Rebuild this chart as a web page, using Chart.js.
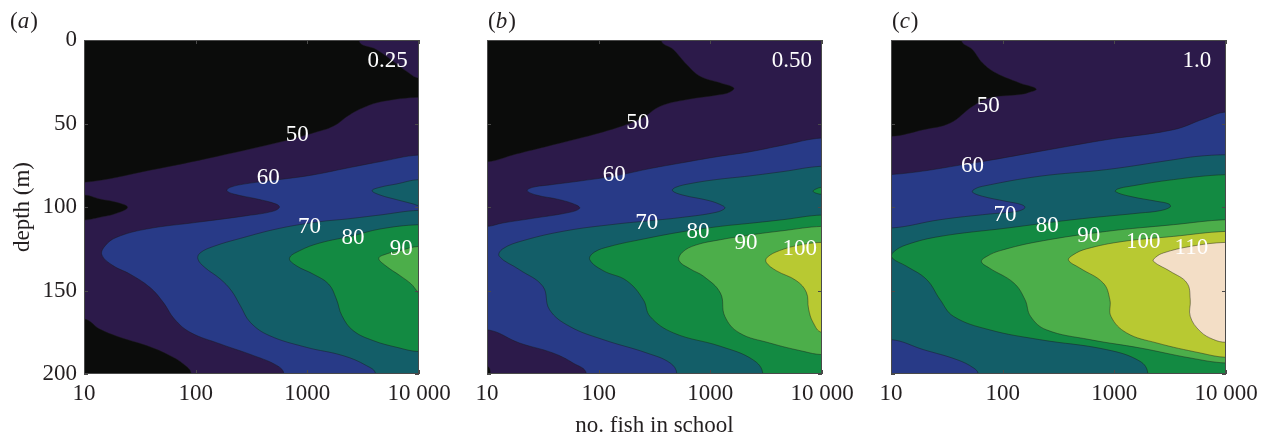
<!DOCTYPE html>
<html>
<head>
<meta charset="utf-8">
<script src="https://cdn.jsdelivr.net/npm/chart.js@4/dist/chart.umd.min.js"></script>
<style>
  body { margin: 0; background: #fff; }
  #wrap { position: relative; width: 1268px; height: 441px; overflow: hidden; }
  canvas { position: absolute; top: 0; }
</style>
</head>
<body>
<div id="wrap">
  <canvas id="pa" width="470" height="441" style="left:0px"></canvas>
  <canvas id="pb" width="430" height="441" style="left:440px"></canvas>
  <canvas id="pc" width="424" height="441" style="left:844px"></canvas>
</div>
<script>
// axes
const xTicks = [10, 100, 1000, 10000];
const xTickText = ['10', '100', '1000', '10 000'];
const yTicks = [0, 50, 100, 150, 200];

// contour lines, [log10(no. fish), depth m]
// panel (a) 0.25
const a50Top = [[3.46,0],[3.62,5.8],[3.77,12.8],[3.89,18.8],[4.0,22.8]];
const a50 = [[1.0,85.2],[1.59,78.0],[2.19,69.7],[2.78,60.7],[3.08,55.1],[3.23,51.7],[3.38,44.7],[3.53,39.7],[3.68,36.7],[4.0,34.3]];
const a50Tongue = [[1.0,92.8],[1.14,95.2],[1.29,97.2],[1.39,100.2],[1.29,103.8],[1.14,106.2],[1.0,107.8]];
const a50Corner = [[1.0,167.1],[1.14,173.1],[1.32,178.0],[1.56,183.0],[1.77,189.0],[1.89,194.0],[1.96,200]];
const a60 = [[4.0,68.9],[3.65,72.9],[3.35,76.8],[3.05,80.8],[2.75,83.6],[2.46,86.0],[2.31,88.2],[2.28,90.2],[2.34,92.2],[2.55,95.2],[2.72,98.2],[2.75,100.2],[2.69,102.6],[2.46,105.2],[2.01,109.2],[1.56,113.2],[1.29,118.2],[1.19,123.2],[1.16,128.7],[1.26,135.1],[1.41,140.1],[1.59,148.1],[1.71,157.1],[1.81,167.1],[1.95,175.0],[2.22,182.0],[2.52,189.0],[2.73,195.0],[2.79,200]];
const a70Lobe = [[4.0,83.6],[3.80,86.2],[3.65,88.2],[3.58,90.2],[3.65,92.8],[3.80,95.6],[3.95,98.2],[4.0,99.2]];
const a70 = [[4.0,102.0],[3.65,104.8],[3.35,107.2],[3.11,108.8],[2.75,112.8],[2.40,118.8],[2.16,123.6],[2.04,127.5],[2.02,131.1],[2.08,136.1],[2.22,143.1],[2.32,150.1],[2.40,159.1],[2.49,169.1],[2.66,177.0],[2.99,184.0],[3.32,189.0],[3.53,195.0],[3.61,200]];
const a80 = [[4.0,110.6],[3.65,113.2],[3.41,117.2],[3.11,121.6],[2.93,126.2],[2.84,130.7],[2.90,135.1],[3.05,140.1],[3.19,146.1],[3.26,155.1],[3.31,165.1],[3.41,174.0],[3.59,180.0],[3.80,184.0],[4.0,186.6]];
const a90 = [[4.0,123.6],[3.83,126.1],[3.71,128.1],[3.64,130.7],[3.70,135.1],[3.83,141.1],[3.93,146.1],[3.98,150.1],[4.0,151.5]];
const aLabels = [['0.25',3.72,12.4],['50',2.91,56.8],['60',2.65,82.4],['70',3.02,111.8],['80',3.41,118.4],['90',3.84,125.0]];

// panel (b) 0.50
const b50 = [[2.56,0],[2.67,5.8],[2.79,14.8],[2.91,21.8],[3.09,25.7],[3.21,28.7],[3.17,31.3],[3.09,32.7],[2.79,35.7],[2.55,39.7],[2.40,46.3],[2.22,51.3],[1.86,58.3],[1.56,63.3],[1.26,68.3],[1.0,72.9]];
const b50Corner = [[1.0,195.5],[1.03,200]];
const b60 = [[4.0,58.7],[3.65,63.0],[3.35,67.0],[3.05,70.0],[2.75,73.5],[2.46,77.0],[2.16,81.2],[1.86,84.2],[1.56,86.8],[1.41,88.2],[1.36,90.2],[1.44,92.8],[1.65,95.6],[1.80,98.8],[1.83,100.8],[1.74,103.2],[1.41,106.8],[1.14,109.6],[1.0,111.6]];
const b60Corner = [[1.0,173.5],[1.29,181.4],[1.59,187.4],[1.77,193.4],[1.89,200]];
const b70 = [[4.0,75.6],[3.65,78.8],[3.35,81.4],[3.05,83.6],[2.82,86.0],[2.69,88.2],[2.66,90.2],[2.75,92.8],[2.99,96.2],[3.11,99.2],[3.13,100.8],[3.05,103.2],[2.75,106.2],[2.46,108.2],[2.16,110.2],[1.71,114.2],[1.32,120.2],[1.14,125.1],[1.11,129.5],[1.29,137.5],[1.50,147.5],[1.56,161.5],[1.74,171.5],[2.04,179.4],[2.43,187.4],[2.64,193.4],[2.70,200]];
const b80Lobe = [[4.0,88.2],[3.94,89.4],[3.92,90.6],[3.95,91.8],[4.0,92.4]];
const b80 = [[4.0,104.8],[3.65,107.6],[3.35,109.8],[3.09,111.6],[2.75,114.8],[2.40,119.2],[2.10,123.6],[1.96,127.1],[1.92,131.5],[2.04,138.1],[2.25,144.1],[2.40,155.5],[2.46,165.5],[2.67,175.4],[3.09,183.4],[3.38,191.4],[3.47,200]];
const b90 = [[4.0,111.6],[3.65,114.2],[3.35,116.8],[3.09,119.6],[2.87,122.8],[2.75,127.1],[2.72,132.1],[2.82,137.1],[2.94,141.5],[3.09,151.5],[3.13,165.5],[3.26,175.4],[3.53,181.4],[3.83,186.4],[4.0,188.4]];
const b100 = [[4.0,121.2],[3.80,122.8],[3.62,126.1],[3.51,130.1],[3.50,133.1],[3.59,138.1],[3.77,144.1],[3.86,151.1],[3.88,161.1],[3.92,169.1],[4.0,175.0]];
const bLabels = [['0.50',3.73,12.4],['50',2.35,49.4],['60',2.14,81.0],['70',2.43,109.8],['80',2.89,115.0],['90',3.32,121.4],['100',3.80,125.0]];

// panel (c) 1.0
const c50 = [[1.63,0],[1.73,5.8],[1.82,13.8],[1.94,19.8],[2.15,25.7],[2.30,29.3],[2.22,31.7],[2.15,32.7],[1.88,34.7],[1.73,39.7],[1.53,49.7],[1.29,53.7],[1.0,57.7]];
const c60 = [[4.0,43.1],[3.80,47.3],[3.53,53.7],[2.93,59.7],[2.33,66.7],[1.73,73.7],[1.0,80.6]];
const c70 = [[4.0,68.7],[3.74,69.7],[3.53,71.7],[2.93,77.6],[2.33,81.6],[1.82,87.6],[1.74,89.6],[1.73,91.2],[1.82,93.6],[2.03,96.6],[2.17,98.6],[2.20,100.4],[2.13,102.6],[1.88,104.2],[1.44,107.6],[1.0,112.6]];
const c70Corner = [[1.0,179.4],[1.29,185.4],[1.59,191.4],[1.74,196.4],[1.78,200]];
const c80 = [[4.0,80.6],[3.53,83.6],[3.14,87.6],[3.03,89.2],[3.01,90.8],[3.14,93.6],[3.38,96.6],[3.49,98.2],[3.50,100.0],[3.41,102.2],[3.23,103.6],[2.63,107.6],[2.04,112.6],[1.44,117.6],[1.14,122.6],[1.02,127.1],[1.01,130.5],[1.14,135.5],[1.32,143.5],[1.44,155.5],[1.56,165.5],[1.88,173.5],[2.33,179.4],[2.93,185.4],[3.23,192.4],[3.30,200]];
const c90 = [[4.0,107.6],[3.53,110.6],[2.93,114.6],[2.33,120.6],[1.98,126.1],[1.86,129.5],[1.81,132.7],[1.88,136.5],[2.10,145.5],[2.20,155.5],[2.25,165.5],[2.39,173.5],[2.78,179.4],[3.23,184.4],[3.68,190.4],[4.0,193.4]];
const c100 = [[4.0,114.6],[3.53,117.6],[3.08,120.6],[2.75,125.1],[2.63,128.7],[2.59,131.9],[2.69,136.5],[2.90,145.5],[2.96,155.5],[2.97,165.5],[3.11,175.4],[3.38,181.4],[3.77,187.4],[4.0,190.0]];
const c110 = [[4.0,121.2],[3.68,123.6],[3.44,127.5],[3.37,130.1],[3.35,132.5],[3.50,138.5],[3.65,145.5],[3.68,155.5],[3.68,165.5],[3.77,174.5],[3.89,179.4],[4.0,181.0]];
const cLabels = [['1.0',3.74,12.4],['50',1.87,39.4],['60',1.73,75.4],['70',2.02,104.8],['80',2.40,111.4],['90',2.77,117.4],['100',3.26,121.0],['110',3.69,124.4]];

const colors = {
  40: '#0b0c0b', 50: '#2c1a4a', 60: '#283a87', 70: '#135e68',
  80: '#138a42', 90: '#4cae4a', 100: '#b8c932', 110: '#f3dec6'
};

// points well outside the plot, used to close the filled shapes
const TL = [0.4, -60], TR = [4.6, -60], BR = [4.6, 260], BL = [0.4, 260];

function edgeOut(p) {
  if (p[0] <= 1.0) return [0.4, p[1]];
  if (p[0] >= 4.0) return [4.6, p[1]];
  if (p[1] <= 0) return [p[0], -60];
  if (p[1] >= 200) return [p[0], 260];
  return p;
}

function toXY(pts) {
  return pts.map(p => ({ x: 10 ** p[0], y: p[1] }));
}

function makeDatasets(layers) {
  const sets = [{
    data: toXY([TL, TR, BR, BL]), backgroundColor: colors[40], borderWidth: 0,
    fill: 'shape', showLine: true, tension: 0, order: 0
  }];
  layers.forEach((l, i) => {
    const line = l[0];
    const pts = [edgeOut(line[0]), ...line, edgeOut(line[line.length - 1]), ...l[2]];
    sets.push({
      data: toXY(pts),
      backgroundColor: colors[l[1]],
      borderColor: 'rgba(25,25,25,0.55)',
      borderWidth: 0.8,
      fill: 'shape',
      showLine: true,
      tension: 0.4,
      order: -(i + 1)
    });
  });
  return sets;
}

const serif = '"Liberation Serif", "Times New Roman", serif';
const textColor = '#231f20';
const fs = 23;

const decor = {
  id: 'decor',
  afterDatasetsDraw(chart, args, opts) {
    const { ctx, chartArea: a } = chart;
    const x = chart.scales.x, y = chart.scales.y;
    ctx.save();
    ctx.fillStyle = '#fff';
    ctx.font = fs + 'px ' + serif;
    ctx.textAlign = 'center';
    ctx.textBaseline = 'middle';
    for (const [t, lx, d] of opts.labels) {
      ctx.fillText(t, x.getPixelForValue(10 ** lx), y.getPixelForValue(d));
    }
    ctx.strokeStyle = '#4a4a4a';
    ctx.lineWidth = 1;
    ctx.strokeRect(a.left + 0.5, a.top + 0.5, a.width - 1, a.height - 1);
    ctx.beginPath();
    for (const v of xTicks) {
      const px = Math.round(x.getPixelForValue(v)) + 0.5;
      ctx.moveTo(px, a.bottom); ctx.lineTo(px, a.bottom - 4);
      ctx.moveTo(px, a.top); ctx.lineTo(px, a.top + 4);
    }
    for (const v of yTicks) {
      const py = Math.round(y.getPixelForValue(v)) + 0.5;
      ctx.moveTo(a.left, py); ctx.lineTo(a.left + 4, py);
      ctx.moveTo(a.right, py); ctx.lineTo(a.right - 4, py);
    }
    ctx.stroke();
    // panel tag like (a)
    ctx.fillStyle = textColor;
    ctx.textAlign = 'left';
    ctx.textBaseline = 'alphabetic';
    let tx = opts.tagX;
    ctx.font = fs + 'px ' + serif;
    ctx.fillText('(', tx, 28); tx += ctx.measureText('(').width;
    ctx.font = 'italic ' + fs + 'px ' + serif;
    ctx.fillText(opts.tag, tx, 28); tx += ctx.measureText(opts.tag).width + 1;
    ctx.font = fs + 'px ' + serif;
    ctx.fillText(')', tx, 28);
    ctx.restore();
  }
};

function panel(id, layers, labels, tag, tagX, pad, showY, xTitle) {
  new Chart(document.getElementById(id), {
    type: 'scatter',
    data: { datasets: makeDatasets(layers) },
    options: {
      responsive: false,
      devicePixelRatio: 1,
      animation: false,
      events: [],
      layout: { padding: pad },
      elements: { point: { radius: 0 }, line: { capBezierPoints: false } },
      plugins: {
        legend: { display: false },
        tooltip: { enabled: false },
        decor: { labels: labels, tag: tag, tagX: tagX }
      },
      scales: {
        x: {
          type: 'logarithmic', min: 10, max: 10000,
          afterBuildTicks: s => { s.ticks = xTicks.map(v => ({ value: v })); },
          afterFit: s => { s.height = 67; },
          grid: { display: false, drawTicks: false },
          border: { display: false },
          ticks: {
            callback: (v, i) => xTickText[i],
            autoSkip: false, maxRotation: 0, padding: 6,
            color: textColor, font: { family: serif, size: fs }
          },
          title: {
            display: !!xTitle, text: xTitle || '', color: textColor,
            font: { family: serif, size: fs }, padding: { top: 0, bottom: 1 }
          }
        },
        y: {
          display: showY,
          reverse: true, min: 0, max: 200,
          afterFit: s => { if (showY) s.width = 84; },
          grid: { display: false, drawTicks: false },
          border: { display: false },
          ticks: { stepSize: 50, padding: 7, color: textColor, font: { family: serif, size: fs } },
          title: {
            display: showY, text: 'depth (m)', color: textColor,
            font: { family: serif, size: fs }, padding: { top: 9, bottom: 0 }
          }
        }
      }
    },
    plugins: [decor]
  });
}

panel('pa', [
  [a50Top, 50, [TR]],
  [a50, 50, [BR, BL]],
  [a50Tongue, 40, []],
  [a50Corner, 40, [BL]],
  [a60, 60, [BR]],
  [a70Lobe, 70, []],
  [a70, 70, [BR]],
  [a80, 80, []],
  [a90, 90, []]
], aLabels, 'a', 10, { left: 0, right: 51, top: 40, bottom: 0 }, true, null);

panel('pb', [
  [b50, 50, [BL, BR, TR]],
  [b60, 60, [BL, BR]],
  [b60Corner, 50, [BL]],
  [b50Corner, 40, [BL]],
  [b70, 70, [BR]],
  [b80Lobe, 80, []],
  [b80, 80, [BR]],
  [b90, 90, []],
  [b100, 100, []]
], bLabels, 'b', 48, { left: 47, right: 48, top: 40, bottom: 0 }, false, 'no. fish in school');

panel('pc', [
  [c50, 50, [BL, BR, TR]],
  [c60, 60, [BL, BR]],
  [c70, 70, [BL, BR]],
  [c70Corner, 60, [BL]],
  [c80, 80, [BR]],
  [c90, 90, []],
  [c100, 100, []],
  [c110, 110, []]
], cLabels, 'c', 48, { left: 47, right: 42, top: 40, bottom: 0 }, false, null);
</script>
</body>
</html>
